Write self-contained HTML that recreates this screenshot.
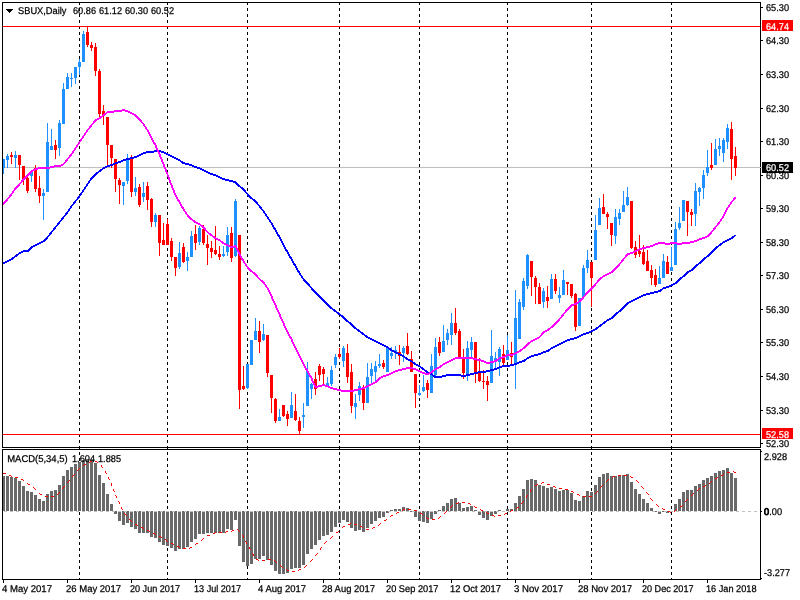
<!DOCTYPE html>
<html lang="en">
<head>
<meta charset="utf-8">
<title>SBUX, Daily</title>
<style>
html,body{margin:0;padding:0;background:#ffffff;}
body{width:800px;height:600px;overflow:hidden;}
svg{display:block;}
</style>
</head>
<body>
<svg width="800" height="600" viewBox="0 0 800 600" shape-rendering="crispEdges" text-rendering="geometricPrecision">
<rect x="0" y="0" width="800" height="600" fill="#ffffff"/>
<g fill="#000000">
<path d="M79 3h1v2h-1zM79 8h1v3h-1zM79 14h1v3h-1zM79 20h1v3h-1zM79 26h1v3h-1zM79 32h1v3h-1zM79 38h1v3h-1zM79 44h1v3h-1zM79 50h1v3h-1zM79 56h1v3h-1zM79 62h1v3h-1zM79 68h1v3h-1zM79 74h1v3h-1zM79 80h1v3h-1zM79 86h1v3h-1zM79 92h1v3h-1zM79 98h1v3h-1zM79 104h1v3h-1zM79 110h1v3h-1zM79 116h1v3h-1zM79 122h1v3h-1zM79 128h1v3h-1zM79 134h1v3h-1zM79 140h1v3h-1zM79 146h1v3h-1zM79 152h1v3h-1zM79 158h1v3h-1zM79 164h1v3h-1zM79 170h1v3h-1zM79 176h1v3h-1zM79 182h1v3h-1zM79 188h1v3h-1zM79 194h1v3h-1zM79 200h1v3h-1zM79 206h1v3h-1zM79 212h1v3h-1zM79 218h1v3h-1zM79 224h1v3h-1zM79 230h1v3h-1zM79 236h1v3h-1zM79 242h1v3h-1zM79 248h1v3h-1zM79 254h1v3h-1zM79 260h1v3h-1zM79 266h1v3h-1zM79 272h1v3h-1zM79 278h1v3h-1zM79 284h1v3h-1zM79 290h1v3h-1zM79 296h1v3h-1zM79 302h1v3h-1zM79 308h1v3h-1zM79 314h1v3h-1zM79 320h1v3h-1zM79 326h1v3h-1zM79 332h1v3h-1zM79 338h1v3h-1zM79 344h1v3h-1zM79 350h1v3h-1zM79 356h1v3h-1zM79 362h1v3h-1zM79 368h1v3h-1zM79 374h1v3h-1zM79 380h1v3h-1zM79 386h1v3h-1zM79 392h1v3h-1zM79 398h1v3h-1zM79 404h1v3h-1zM79 410h1v3h-1zM79 416h1v3h-1zM79 422h1v3h-1zM79 428h1v3h-1zM79 434h1v3h-1zM79 440h1v3h-1zM79 446h1v3h-1zM79 452h1v3h-1zM79 458h1v3h-1zM79 464h1v3h-1zM79 470h1v3h-1zM79 476h1v3h-1zM79 482h1v3h-1zM79 488h1v3h-1zM79 494h1v3h-1zM79 500h1v3h-1zM79 506h1v3h-1zM79 512h1v3h-1zM79 518h1v3h-1zM79 524h1v3h-1zM79 530h1v3h-1zM79 536h1v3h-1zM79 542h1v3h-1zM79 548h1v3h-1zM79 554h1v3h-1zM79 560h1v3h-1zM79 566h1v3h-1zM79 572h1v3h-1zM79 578h1v1h-1z"/>
<path d="M167 3h1v2h-1zM167 8h1v3h-1zM167 14h1v3h-1zM167 20h1v3h-1zM167 26h1v3h-1zM167 32h1v3h-1zM167 38h1v3h-1zM167 44h1v3h-1zM167 50h1v3h-1zM167 56h1v3h-1zM167 62h1v3h-1zM167 68h1v3h-1zM167 74h1v3h-1zM167 80h1v3h-1zM167 86h1v3h-1zM167 92h1v3h-1zM167 98h1v3h-1zM167 104h1v3h-1zM167 110h1v3h-1zM167 116h1v3h-1zM167 122h1v3h-1zM167 128h1v3h-1zM167 134h1v3h-1zM167 140h1v3h-1zM167 146h1v3h-1zM167 152h1v3h-1zM167 158h1v3h-1zM167 164h1v3h-1zM167 170h1v3h-1zM167 176h1v3h-1zM167 182h1v3h-1zM167 188h1v3h-1zM167 194h1v3h-1zM167 200h1v3h-1zM167 206h1v3h-1zM167 212h1v3h-1zM167 218h1v3h-1zM167 224h1v3h-1zM167 230h1v3h-1zM167 236h1v3h-1zM167 242h1v3h-1zM167 248h1v3h-1zM167 254h1v3h-1zM167 260h1v3h-1zM167 266h1v3h-1zM167 272h1v3h-1zM167 278h1v3h-1zM167 284h1v3h-1zM167 290h1v3h-1zM167 296h1v3h-1zM167 302h1v3h-1zM167 308h1v3h-1zM167 314h1v3h-1zM167 320h1v3h-1zM167 326h1v3h-1zM167 332h1v3h-1zM167 338h1v3h-1zM167 344h1v3h-1zM167 350h1v3h-1zM167 356h1v3h-1zM167 362h1v3h-1zM167 368h1v3h-1zM167 374h1v3h-1zM167 380h1v3h-1zM167 386h1v3h-1zM167 392h1v3h-1zM167 398h1v3h-1zM167 404h1v3h-1zM167 410h1v3h-1zM167 416h1v3h-1zM167 422h1v3h-1zM167 428h1v3h-1zM167 434h1v3h-1zM167 440h1v3h-1zM167 446h1v3h-1zM167 452h1v3h-1zM167 458h1v3h-1zM167 464h1v3h-1zM167 470h1v3h-1zM167 476h1v3h-1zM167 482h1v3h-1zM167 488h1v3h-1zM167 494h1v3h-1zM167 500h1v3h-1zM167 506h1v3h-1zM167 512h1v3h-1zM167 518h1v3h-1zM167 524h1v3h-1zM167 530h1v3h-1zM167 536h1v3h-1zM167 542h1v3h-1zM167 548h1v3h-1zM167 554h1v3h-1zM167 560h1v3h-1zM167 566h1v3h-1zM167 572h1v3h-1zM167 578h1v1h-1z"/>
<path d="M247 3h1v2h-1zM247 8h1v3h-1zM247 14h1v3h-1zM247 20h1v3h-1zM247 26h1v3h-1zM247 32h1v3h-1zM247 38h1v3h-1zM247 44h1v3h-1zM247 50h1v3h-1zM247 56h1v3h-1zM247 62h1v3h-1zM247 68h1v3h-1zM247 74h1v3h-1zM247 80h1v3h-1zM247 86h1v3h-1zM247 92h1v3h-1zM247 98h1v3h-1zM247 104h1v3h-1zM247 110h1v3h-1zM247 116h1v3h-1zM247 122h1v3h-1zM247 128h1v3h-1zM247 134h1v3h-1zM247 140h1v3h-1zM247 146h1v3h-1zM247 152h1v3h-1zM247 158h1v3h-1zM247 164h1v3h-1zM247 170h1v3h-1zM247 176h1v3h-1zM247 182h1v3h-1zM247 188h1v3h-1zM247 194h1v3h-1zM247 200h1v3h-1zM247 206h1v3h-1zM247 212h1v3h-1zM247 218h1v3h-1zM247 224h1v3h-1zM247 230h1v3h-1zM247 236h1v3h-1zM247 242h1v3h-1zM247 248h1v3h-1zM247 254h1v3h-1zM247 260h1v3h-1zM247 266h1v3h-1zM247 272h1v3h-1zM247 278h1v3h-1zM247 284h1v3h-1zM247 290h1v3h-1zM247 296h1v3h-1zM247 302h1v3h-1zM247 308h1v3h-1zM247 314h1v3h-1zM247 320h1v3h-1zM247 326h1v3h-1zM247 332h1v3h-1zM247 338h1v3h-1zM247 344h1v3h-1zM247 350h1v3h-1zM247 356h1v3h-1zM247 362h1v3h-1zM247 368h1v3h-1zM247 374h1v3h-1zM247 380h1v3h-1zM247 386h1v3h-1zM247 392h1v3h-1zM247 398h1v3h-1zM247 404h1v3h-1zM247 410h1v3h-1zM247 416h1v3h-1zM247 422h1v3h-1zM247 428h1v3h-1zM247 434h1v3h-1zM247 440h1v3h-1zM247 446h1v3h-1zM247 452h1v3h-1zM247 458h1v3h-1zM247 464h1v3h-1zM247 470h1v3h-1zM247 476h1v3h-1zM247 482h1v3h-1zM247 488h1v3h-1zM247 494h1v3h-1zM247 500h1v3h-1zM247 506h1v3h-1zM247 512h1v3h-1zM247 518h1v3h-1zM247 524h1v3h-1zM247 530h1v3h-1zM247 536h1v3h-1zM247 542h1v3h-1zM247 548h1v3h-1zM247 554h1v3h-1zM247 560h1v3h-1zM247 566h1v3h-1zM247 572h1v3h-1zM247 578h1v1h-1z"/>
<path d="M339 3h1v2h-1zM339 8h1v3h-1zM339 14h1v3h-1zM339 20h1v3h-1zM339 26h1v3h-1zM339 32h1v3h-1zM339 38h1v3h-1zM339 44h1v3h-1zM339 50h1v3h-1zM339 56h1v3h-1zM339 62h1v3h-1zM339 68h1v3h-1zM339 74h1v3h-1zM339 80h1v3h-1zM339 86h1v3h-1zM339 92h1v3h-1zM339 98h1v3h-1zM339 104h1v3h-1zM339 110h1v3h-1zM339 116h1v3h-1zM339 122h1v3h-1zM339 128h1v3h-1zM339 134h1v3h-1zM339 140h1v3h-1zM339 146h1v3h-1zM339 152h1v3h-1zM339 158h1v3h-1zM339 164h1v3h-1zM339 170h1v3h-1zM339 176h1v3h-1zM339 182h1v3h-1zM339 188h1v3h-1zM339 194h1v3h-1zM339 200h1v3h-1zM339 206h1v3h-1zM339 212h1v3h-1zM339 218h1v3h-1zM339 224h1v3h-1zM339 230h1v3h-1zM339 236h1v3h-1zM339 242h1v3h-1zM339 248h1v3h-1zM339 254h1v3h-1zM339 260h1v3h-1zM339 266h1v3h-1zM339 272h1v3h-1zM339 278h1v3h-1zM339 284h1v3h-1zM339 290h1v3h-1zM339 296h1v3h-1zM339 302h1v3h-1zM339 308h1v3h-1zM339 314h1v3h-1zM339 320h1v3h-1zM339 326h1v3h-1zM339 332h1v3h-1zM339 338h1v3h-1zM339 344h1v3h-1zM339 350h1v3h-1zM339 356h1v3h-1zM339 362h1v3h-1zM339 368h1v3h-1zM339 374h1v3h-1zM339 380h1v3h-1zM339 386h1v3h-1zM339 392h1v3h-1zM339 398h1v3h-1zM339 404h1v3h-1zM339 410h1v3h-1zM339 416h1v3h-1zM339 422h1v3h-1zM339 428h1v3h-1zM339 434h1v3h-1zM339 440h1v3h-1zM339 446h1v3h-1zM339 452h1v3h-1zM339 458h1v3h-1zM339 464h1v3h-1zM339 470h1v3h-1zM339 476h1v3h-1zM339 482h1v3h-1zM339 488h1v3h-1zM339 494h1v3h-1zM339 500h1v3h-1zM339 506h1v3h-1zM339 512h1v3h-1zM339 518h1v3h-1zM339 524h1v3h-1zM339 530h1v3h-1zM339 536h1v3h-1zM339 542h1v3h-1zM339 548h1v3h-1zM339 554h1v3h-1zM339 560h1v3h-1zM339 566h1v3h-1zM339 572h1v3h-1zM339 578h1v1h-1z"/>
<path d="M419 3h1v2h-1zM419 8h1v3h-1zM419 14h1v3h-1zM419 20h1v3h-1zM419 26h1v3h-1zM419 32h1v3h-1zM419 38h1v3h-1zM419 44h1v3h-1zM419 50h1v3h-1zM419 56h1v3h-1zM419 62h1v3h-1zM419 68h1v3h-1zM419 74h1v3h-1zM419 80h1v3h-1zM419 86h1v3h-1zM419 92h1v3h-1zM419 98h1v3h-1zM419 104h1v3h-1zM419 110h1v3h-1zM419 116h1v3h-1zM419 122h1v3h-1zM419 128h1v3h-1zM419 134h1v3h-1zM419 140h1v3h-1zM419 146h1v3h-1zM419 152h1v3h-1zM419 158h1v3h-1zM419 164h1v3h-1zM419 170h1v3h-1zM419 176h1v3h-1zM419 182h1v3h-1zM419 188h1v3h-1zM419 194h1v3h-1zM419 200h1v3h-1zM419 206h1v3h-1zM419 212h1v3h-1zM419 218h1v3h-1zM419 224h1v3h-1zM419 230h1v3h-1zM419 236h1v3h-1zM419 242h1v3h-1zM419 248h1v3h-1zM419 254h1v3h-1zM419 260h1v3h-1zM419 266h1v3h-1zM419 272h1v3h-1zM419 278h1v3h-1zM419 284h1v3h-1zM419 290h1v3h-1zM419 296h1v3h-1zM419 302h1v3h-1zM419 308h1v3h-1zM419 314h1v3h-1zM419 320h1v3h-1zM419 326h1v3h-1zM419 332h1v3h-1zM419 338h1v3h-1zM419 344h1v3h-1zM419 350h1v3h-1zM419 356h1v3h-1zM419 362h1v3h-1zM419 368h1v3h-1zM419 374h1v3h-1zM419 380h1v3h-1zM419 386h1v3h-1zM419 392h1v3h-1zM419 398h1v3h-1zM419 404h1v3h-1zM419 410h1v3h-1zM419 416h1v3h-1zM419 422h1v3h-1zM419 428h1v3h-1zM419 434h1v3h-1zM419 440h1v3h-1zM419 446h1v3h-1zM419 452h1v3h-1zM419 458h1v3h-1zM419 464h1v3h-1zM419 470h1v3h-1zM419 476h1v3h-1zM419 482h1v3h-1zM419 488h1v3h-1zM419 494h1v3h-1zM419 500h1v3h-1zM419 506h1v3h-1zM419 512h1v3h-1zM419 518h1v3h-1zM419 524h1v3h-1zM419 530h1v3h-1zM419 536h1v3h-1zM419 542h1v3h-1zM419 548h1v3h-1zM419 554h1v3h-1zM419 560h1v3h-1zM419 566h1v3h-1zM419 572h1v3h-1zM419 578h1v1h-1z"/>
<path d="M507 3h1v2h-1zM507 8h1v3h-1zM507 14h1v3h-1zM507 20h1v3h-1zM507 26h1v3h-1zM507 32h1v3h-1zM507 38h1v3h-1zM507 44h1v3h-1zM507 50h1v3h-1zM507 56h1v3h-1zM507 62h1v3h-1zM507 68h1v3h-1zM507 74h1v3h-1zM507 80h1v3h-1zM507 86h1v3h-1zM507 92h1v3h-1zM507 98h1v3h-1zM507 104h1v3h-1zM507 110h1v3h-1zM507 116h1v3h-1zM507 122h1v3h-1zM507 128h1v3h-1zM507 134h1v3h-1zM507 140h1v3h-1zM507 146h1v3h-1zM507 152h1v3h-1zM507 158h1v3h-1zM507 164h1v3h-1zM507 170h1v3h-1zM507 176h1v3h-1zM507 182h1v3h-1zM507 188h1v3h-1zM507 194h1v3h-1zM507 200h1v3h-1zM507 206h1v3h-1zM507 212h1v3h-1zM507 218h1v3h-1zM507 224h1v3h-1zM507 230h1v3h-1zM507 236h1v3h-1zM507 242h1v3h-1zM507 248h1v3h-1zM507 254h1v3h-1zM507 260h1v3h-1zM507 266h1v3h-1zM507 272h1v3h-1zM507 278h1v3h-1zM507 284h1v3h-1zM507 290h1v3h-1zM507 296h1v3h-1zM507 302h1v3h-1zM507 308h1v3h-1zM507 314h1v3h-1zM507 320h1v3h-1zM507 326h1v3h-1zM507 332h1v3h-1zM507 338h1v3h-1zM507 344h1v3h-1zM507 350h1v3h-1zM507 356h1v3h-1zM507 362h1v3h-1zM507 368h1v3h-1zM507 374h1v3h-1zM507 380h1v3h-1zM507 386h1v3h-1zM507 392h1v3h-1zM507 398h1v3h-1zM507 404h1v3h-1zM507 410h1v3h-1zM507 416h1v3h-1zM507 422h1v3h-1zM507 428h1v3h-1zM507 434h1v3h-1zM507 440h1v3h-1zM507 446h1v3h-1zM507 452h1v3h-1zM507 458h1v3h-1zM507 464h1v3h-1zM507 470h1v3h-1zM507 476h1v3h-1zM507 482h1v3h-1zM507 488h1v3h-1zM507 494h1v3h-1zM507 500h1v3h-1zM507 506h1v3h-1zM507 512h1v3h-1zM507 518h1v3h-1zM507 524h1v3h-1zM507 530h1v3h-1zM507 536h1v3h-1zM507 542h1v3h-1zM507 548h1v3h-1zM507 554h1v3h-1zM507 560h1v3h-1zM507 566h1v3h-1zM507 572h1v3h-1zM507 578h1v1h-1z"/>
<path d="M591 3h1v2h-1zM591 8h1v3h-1zM591 14h1v3h-1zM591 20h1v3h-1zM591 26h1v3h-1zM591 32h1v3h-1zM591 38h1v3h-1zM591 44h1v3h-1zM591 50h1v3h-1zM591 56h1v3h-1zM591 62h1v3h-1zM591 68h1v3h-1zM591 74h1v3h-1zM591 80h1v3h-1zM591 86h1v3h-1zM591 92h1v3h-1zM591 98h1v3h-1zM591 104h1v3h-1zM591 110h1v3h-1zM591 116h1v3h-1zM591 122h1v3h-1zM591 128h1v3h-1zM591 134h1v3h-1zM591 140h1v3h-1zM591 146h1v3h-1zM591 152h1v3h-1zM591 158h1v3h-1zM591 164h1v3h-1zM591 170h1v3h-1zM591 176h1v3h-1zM591 182h1v3h-1zM591 188h1v3h-1zM591 194h1v3h-1zM591 200h1v3h-1zM591 206h1v3h-1zM591 212h1v3h-1zM591 218h1v3h-1zM591 224h1v3h-1zM591 230h1v3h-1zM591 236h1v3h-1zM591 242h1v3h-1zM591 248h1v3h-1zM591 254h1v3h-1zM591 260h1v3h-1zM591 266h1v3h-1zM591 272h1v3h-1zM591 278h1v3h-1zM591 284h1v3h-1zM591 290h1v3h-1zM591 296h1v3h-1zM591 302h1v3h-1zM591 308h1v3h-1zM591 314h1v3h-1zM591 320h1v3h-1zM591 326h1v3h-1zM591 332h1v3h-1zM591 338h1v3h-1zM591 344h1v3h-1zM591 350h1v3h-1zM591 356h1v3h-1zM591 362h1v3h-1zM591 368h1v3h-1zM591 374h1v3h-1zM591 380h1v3h-1zM591 386h1v3h-1zM591 392h1v3h-1zM591 398h1v3h-1zM591 404h1v3h-1zM591 410h1v3h-1zM591 416h1v3h-1zM591 422h1v3h-1zM591 428h1v3h-1zM591 434h1v3h-1zM591 440h1v3h-1zM591 446h1v3h-1zM591 452h1v3h-1zM591 458h1v3h-1zM591 464h1v3h-1zM591 470h1v3h-1zM591 476h1v3h-1zM591 482h1v3h-1zM591 488h1v3h-1zM591 494h1v3h-1zM591 500h1v3h-1zM591 506h1v3h-1zM591 512h1v3h-1zM591 518h1v3h-1zM591 524h1v3h-1zM591 530h1v3h-1zM591 536h1v3h-1zM591 542h1v3h-1zM591 548h1v3h-1zM591 554h1v3h-1zM591 560h1v3h-1zM591 566h1v3h-1zM591 572h1v3h-1zM591 578h1v1h-1z"/>
<path d="M671 3h1v2h-1zM671 8h1v3h-1zM671 14h1v3h-1zM671 20h1v3h-1zM671 26h1v3h-1zM671 32h1v3h-1zM671 38h1v3h-1zM671 44h1v3h-1zM671 50h1v3h-1zM671 56h1v3h-1zM671 62h1v3h-1zM671 68h1v3h-1zM671 74h1v3h-1zM671 80h1v3h-1zM671 86h1v3h-1zM671 92h1v3h-1zM671 98h1v3h-1zM671 104h1v3h-1zM671 110h1v3h-1zM671 116h1v3h-1zM671 122h1v3h-1zM671 128h1v3h-1zM671 134h1v3h-1zM671 140h1v3h-1zM671 146h1v3h-1zM671 152h1v3h-1zM671 158h1v3h-1zM671 164h1v3h-1zM671 170h1v3h-1zM671 176h1v3h-1zM671 182h1v3h-1zM671 188h1v3h-1zM671 194h1v3h-1zM671 200h1v3h-1zM671 206h1v3h-1zM671 212h1v3h-1zM671 218h1v3h-1zM671 224h1v3h-1zM671 230h1v3h-1zM671 236h1v3h-1zM671 242h1v3h-1zM671 248h1v3h-1zM671 254h1v3h-1zM671 260h1v3h-1zM671 266h1v3h-1zM671 272h1v3h-1zM671 278h1v3h-1zM671 284h1v3h-1zM671 290h1v3h-1zM671 296h1v3h-1zM671 302h1v3h-1zM671 308h1v3h-1zM671 314h1v3h-1zM671 320h1v3h-1zM671 326h1v3h-1zM671 332h1v3h-1zM671 338h1v3h-1zM671 344h1v3h-1zM671 350h1v3h-1zM671 356h1v3h-1zM671 362h1v3h-1zM671 368h1v3h-1zM671 374h1v3h-1zM671 380h1v3h-1zM671 386h1v3h-1zM671 392h1v3h-1zM671 398h1v3h-1zM671 404h1v3h-1zM671 410h1v3h-1zM671 416h1v3h-1zM671 422h1v3h-1zM671 428h1v3h-1zM671 434h1v3h-1zM671 440h1v3h-1zM671 446h1v3h-1zM671 452h1v3h-1zM671 458h1v3h-1zM671 464h1v3h-1zM671 470h1v3h-1zM671 476h1v3h-1zM671 482h1v3h-1zM671 488h1v3h-1zM671 494h1v3h-1zM671 500h1v3h-1zM671 506h1v3h-1zM671 512h1v3h-1zM671 518h1v3h-1zM671 524h1v3h-1zM671 530h1v3h-1zM671 536h1v3h-1zM671 542h1v3h-1zM671 548h1v3h-1zM671 554h1v3h-1zM671 560h1v3h-1zM671 566h1v3h-1zM671 572h1v3h-1zM671 578h1v1h-1z"/>
</g>
<rect x="3" y="167" width="759" height="1" fill="#c0c0c0"/>
<path fill="#1e90ff" d="M3 159h1v15h-1zM2 159h3v9h-3zM7 154h1v14h-1zM6 156h3v4h-3zM15 151h1v17h-1zM14 155h3v3h-3zM31 171h1v11h-1zM30 172h3v4h-3zM43 189h1v31h-1zM42 193h3v3h-3zM47 123h1v69h-1zM46 142h3v50h-3zM51 129h1v21h-1zM50 146h3v4h-3zM59 120h1v36h-1zM58 123h3v25h-3zM63 83h1v41h-1zM62 89h3v35h-3zM67 73h1v16h-1zM66 77h3v12h-3zM71 73h1v14h-1zM70 78h3v1h-3zM75 67h1v17h-1zM74 67h3v11h-3zM79 59h1v16h-1zM78 62h3v5h-3zM83 31h1v31h-1zM82 34h3v28h-3zM123 182h1v23h-1zM122 182h3v4h-3zM127 154h1v30h-1zM126 159h3v22h-3zM135 177h1v19h-1zM134 188h3v4h-3zM143 182h1v20h-1zM142 193h3v4h-3zM155 213h1v14h-1zM154 215h3v7h-3zM179 242h1v27h-1zM178 253h3v14h-3zM187 252h1v19h-1zM186 257h3v4h-3zM191 231h1v26h-1zM190 236h3v21h-3zM199 226h1v19h-1zM198 228h3v14h-3zM223 246h1v11h-1zM222 254h3v2h-3zM227 227h1v29h-1zM226 235h3v17h-3zM235 199h1v58h-1zM234 201h3v55h-3zM247 364h1v25h-1zM246 364h3v24h-3zM251 340h1v25h-1zM250 340h3v25h-3zM255 318h1v22h-1zM254 331h3v9h-3zM263 324h1v17h-1zM262 334h3v6h-3zM279 409h1v12h-1zM278 417h3v4h-3zM291 392h1v26h-1zM290 405h3v13h-3zM303 403h1v25h-1zM302 415h3v2h-3zM307 362h1v44h-1zM306 371h3v35h-3zM311 383h1v16h-1zM310 384h3v5h-3zM327 377h1v9h-1zM326 383h3v3h-3zM331 366h1v20h-1zM330 370h3v14h-3zM335 354h1v14h-1zM334 357h3v8h-3zM343 346h1v21h-1zM342 348h3v13h-3zM355 394h1v25h-1zM354 403h3v4h-3zM359 382h1v19h-1zM358 386h3v9h-3zM367 363h1v40h-1zM366 377h3v26h-3zM371 363h1v20h-1zM370 369h3v7h-3zM375 361h1v20h-1zM374 366h3v6h-3zM379 354h1v14h-1zM378 364h3v2h-3zM387 346h1v26h-1zM386 348h3v24h-3zM391 347h1v12h-1zM390 353h3v3h-3zM395 346h1v13h-1zM394 350h3v2h-3zM403 346h1v16h-1zM402 348h3v5h-3zM419 385h1v11h-1zM418 393h3v2h-3zM423 375h1v17h-1zM422 387h3v4h-3zM431 354h1v39h-1zM430 366h3v27h-3zM435 338h1v40h-1zM434 347h3v28h-3zM443 325h1v27h-1zM442 341h3v11h-3zM447 329h1v16h-1zM446 333h3v7h-3zM451 313h1v32h-1zM450 323h3v12h-3zM467 341h1v40h-1zM466 348h3v26h-3zM471 337h1v20h-1zM470 342h3v8h-3zM491 330h1v53h-1zM490 356h3v27h-3zM495 352h1v17h-1zM494 358h3v4h-3zM499 347h1v29h-1zM498 349h3v13h-3zM507 335h1v25h-1zM506 350h3v10h-3zM515 290h1v99h-1zM514 318h3v45h-3zM519 299h1v40h-1zM518 302h3v37h-3zM523 278h1v32h-1zM522 281h3v26h-3zM527 254h1v35h-1zM526 255h3v31h-3zM543 288h1v20h-1zM542 291h3v11h-3zM551 274h1v25h-1zM550 279h3v20h-3zM559 287h1v16h-1zM558 295h3v3h-3zM563 270h1v25h-1zM562 280h3v15h-3zM579 298h1v28h-1zM578 298h3v28h-3zM583 265h1v32h-1zM582 268h3v29h-3zM587 250h1v23h-1zM586 260h3v8h-3zM595 215h1v45h-1zM594 230h3v30h-3zM599 198h1v27h-1zM598 208h3v17h-3zM615 209h1v35h-1zM614 217h3v19h-3zM619 209h1v16h-1zM618 213h3v6h-3zM623 191h1v21h-1zM622 205h3v7h-3zM627 187h1v19h-1zM626 197h3v8h-3zM659 266h1v18h-1zM658 278h3v6h-3zM663 254h1v24h-1zM662 261h3v17h-3zM671 247h1v24h-1zM670 267h3v4h-3zM675 222h1v43h-1zM674 229h3v36h-3zM679 207h1v23h-1zM678 223h3v5h-3zM683 200h1v21h-1zM682 200h3v21h-3zM695 183h1v43h-1zM694 191h3v23h-3zM699 187h1v19h-1zM698 188h3v4h-3zM703 170h1v29h-1zM702 175h3v13h-3zM707 150h1v26h-1zM706 167h3v6h-3zM715 139h1v26h-1zM714 149h3v16h-3zM719 138h1v18h-1zM718 146h3v3h-3zM723 138h1v24h-1zM722 140h3v13h-3zM727 124h1v25h-1zM726 128h3v14h-3z"/>
<path fill="#ff0000" d="M11 152h1v12h-1zM10 155h3v2h-3zM19 155h1v25h-1zM18 155h3v10h-3zM23 166h1v19h-1zM22 166h3v14h-3zM27 177h1v16h-1zM26 178h3v13h-3zM35 165h1v27h-1zM34 168h3v21h-3zM39 176h1v27h-1zM38 188h3v8h-3zM55 140h1v19h-1zM54 145h3v5h-3zM87 27h1v20h-1zM86 32h3v13h-3zM91 42h1v9h-1zM90 45h3v3h-3zM95 43h1v33h-1zM94 47h3v24h-3zM99 69h1v48h-1zM98 71h3v43h-3zM103 105h1v20h-1zM102 111h3v4h-3zM107 117h1v48h-1zM106 117h3v28h-3zM111 145h1v23h-1zM110 145h3v13h-3zM115 159h1v33h-1zM114 159h3v20h-3zM119 178h1v26h-1zM118 180h3v5h-3zM131 155h1v42h-1zM130 158h3v34h-3zM139 184h1v23h-1zM138 187h3v18h-3zM147 182h1v28h-1zM146 186h3v14h-3zM151 198h1v29h-1zM150 199h3v23h-3zM159 215h1v41h-1zM158 215h3v28h-3zM163 223h1v22h-1zM162 240h3v5h-3zM167 219h1v26h-1zM166 224h3v21h-3zM171 238h1v23h-1zM170 241h3v16h-3zM175 257h1v19h-1zM174 257h3v11h-3zM183 243h1v20h-1zM182 247h3v15h-3zM195 225h1v25h-1zM194 234h3v9h-3zM203 225h1v20h-1zM202 229h3v14h-3zM207 235h1v30h-1zM206 244h3v4h-3zM211 241h1v17h-1zM210 248h3v4h-3zM215 226h1v29h-1zM214 250h3v4h-3zM219 246h1v14h-1zM218 254h3v3h-3zM231 227h1v35h-1zM230 233h3v25h-3zM239 235h1v174h-1zM238 235h3v155h-3zM243 366h1v24h-1zM242 386h3v3h-3zM259 321h1v32h-1zM258 331h3v11h-3zM267 335h1v42h-1zM266 335h3v38h-3zM271 375h1v38h-1zM270 375h3v23h-3zM275 398h1v25h-1zM274 399h3v22h-3zM283 405h1v12h-1zM282 405h3v11h-3zM287 411h1v15h-1zM286 414h3v5h-3zM295 394h1v27h-1zM294 411h3v9h-3zM299 417h1v17h-1zM298 421h3v10h-3zM315 372h1v23h-1zM314 379h3v10h-3zM319 364h1v17h-1zM318 366h3v9h-3zM323 367h1v18h-1zM322 369h3v5h-3zM339 348h1v11h-1zM338 354h3v3h-3zM347 344h1v39h-1zM346 353h3v24h-3zM351 364h1v49h-1zM350 372h3v34h-3zM363 385h1v25h-1zM362 388h3v15h-3zM383 360h1v9h-1zM382 363h3v4h-3zM399 345h1v20h-1zM398 352h3v4h-3zM407 333h1v22h-1zM406 346h3v8h-3zM411 351h1v21h-1zM410 359h3v13h-3zM415 374h1v34h-1zM414 374h3v19h-3zM427 380h1v18h-1zM426 383h3v7h-3zM439 337h1v19h-1zM438 342h3v11h-3zM455 308h1v27h-1zM454 323h3v10h-3zM459 329h1v28h-1zM458 331h3v26h-3zM463 349h1v30h-1zM462 358h3v15h-3zM475 342h1v41h-1zM474 342h3v30h-3zM479 358h1v24h-1zM478 373h3v8h-3zM483 370h1v19h-1zM482 381h3v1h-3zM487 376h1v25h-1zM486 381h3v4h-3zM503 345h1v20h-1zM502 354h3v9h-3zM511 342h1v22h-1zM510 353h3v4h-3zM531 261h1v35h-1zM530 261h3v16h-3zM535 276h1v28h-1zM534 278h3v9h-3zM539 283h1v21h-1zM538 287h3v17h-3zM547 286h1v22h-1zM546 297h3v4h-3zM555 274h1v20h-1zM554 279h3v12h-3zM567 282h1v13h-1zM566 282h3v2h-3zM571 284h1v14h-1zM570 284h3v12h-3zM575 293h1v38h-1zM574 294h3v33h-3zM591 262h1v45h-1zM590 262h3v16h-3zM603 194h1v20h-1zM602 207h3v7h-3zM607 212h1v17h-1zM606 214h3v3h-3zM611 223h1v23h-1zM610 223h3v12h-3zM631 201h1v48h-1zM630 201h3v47h-3zM635 241h1v17h-1zM634 247h3v8h-3zM639 235h1v22h-1zM638 251h3v3h-3zM643 245h1v20h-1zM642 252h3v12h-3zM647 250h1v21h-1zM646 261h3v10h-3zM651 265h1v20h-1zM650 270h3v8h-3zM655 269h1v18h-1zM654 275h3v10h-3zM667 256h1v18h-1zM666 262h3v12h-3zM687 201h1v35h-1zM686 201h3v11h-3zM691 209h1v17h-1zM690 212h3v3h-3zM711 143h1v27h-1zM710 165h3v3h-3zM731 122h1v58h-1zM730 129h3v30h-3zM735 147h1v29h-1zM734 156h3v12h-3z"/>
<path fill="#0000ff" d="M154 150h7v1h-7zM146 151h18v1h-18zM143 152h11v1h-11zM161 152h5v1h-5zM141 153h5v1h-5zM164 153h4v1h-4zM139 154h4v1h-4zM166 154h4v1h-4zM137 155h4v1h-4zM168 155h4v1h-4zM134 156h5v1h-5zM170 156h4v1h-4zM130 157h7v1h-7zM172 157h4v1h-4zM126 158h8v1h-8zM174 158h4v1h-4zM123 159h7v1h-7zM176 159h4v1h-4zM121 160h5v1h-5zM178 160h3v1h-3zM118 161h5v1h-5zM180 161h3v1h-3zM115 162h6v1h-6zM181 162h4v1h-4zM113 163h5v1h-5zM182 163h7v1h-7zM110 164h5v1h-5zM185 164h7v1h-7zM107 165h6v1h-6zM189 165h5v1h-5zM105 166h5v1h-5zM192 166h5v1h-5zM103 167h4v1h-4zM194 167h6v1h-6zM102 168h3v1h-3zM197 168h5v1h-5zM100 169h3v1h-3zM200 169h4v1h-4zM99 170h3v1h-3zM202 170h4v1h-4zM98 171h3v1h-3zM204 171h4v1h-4zM96 172h3v1h-3zM206 172h4v1h-4zM95 173h3v1h-3zM208 173h5v1h-5zM94 174h3v1h-3zM210 174h6v1h-6zM93 175h3v1h-3zM213 175h5v1h-5zM92 176h3v1h-3zM216 176h4v1h-4zM91 177h3v1h-3zM218 177h4v1h-4zM90 178h3v1h-3zM220 178h5v1h-5zM90 179h2v1h-2zM222 179h7v1h-7zM89 180h2v1h-2zM225 180h8v1h-8zM88 181h2v1h-2zM229 181h7v1h-7zM88 182h2v1h-2zM233 182h4v1h-4zM87 183h2v1h-2zM235 183h3v1h-3zM86 184h2v1h-2zM236 184h3v1h-3zM86 185h2v1h-2zM237 185h3v1h-3zM85 186h2v1h-2zM238 186h3v1h-3zM84 187h2v1h-2zM240 187h3v1h-3zM84 188h2v1h-2zM241 188h3v1h-3zM83 189h2v1h-2zM242 189h3v1h-3zM82 190h2v1h-2zM243 190h3v1h-3zM82 191h2v1h-2zM244 191h2v1h-2zM81 192h2v1h-2zM245 192h2v1h-2zM80 193h2v1h-2zM246 193h2v1h-2zM80 194h2v1h-2zM247 194h2v1h-2zM79 195h2v1h-2zM247 195h3v1h-3zM78 196h2v1h-2zM248 196h3v1h-3zM77 197h3v1h-3zM249 197h3v1h-3zM77 198h2v1h-2zM250 198h3v1h-3zM76 199h2v1h-2zM252 199h3v1h-3zM75 200h2v1h-2zM253 200h3v1h-3zM74 201h2v1h-2zM254 201h3v1h-3zM73 202h3v1h-3zM255 202h3v1h-3zM73 203h2v1h-2zM256 203h2v1h-2zM72 204h2v1h-2zM257 204h2v1h-2zM71 205h2v1h-2zM258 205h2v1h-2zM70 206h2v1h-2zM259 206h2v1h-2zM70 207h2v1h-2zM259 207h3v1h-3zM69 208h2v1h-2zM260 208h2v1h-2zM68 209h2v1h-2zM261 209h2v1h-2zM68 210h2v1h-2zM262 210h2v1h-2zM67 211h2v1h-2zM263 211h2v1h-2zM66 212h2v1h-2zM263 212h2v1h-2zM65 213h3v1h-3zM264 213h2v1h-2zM65 214h2v1h-2zM265 214h2v1h-2zM64 215h2v1h-2zM265 215h2v1h-2zM63 216h2v1h-2zM266 216h2v1h-2zM62 217h2v1h-2zM267 217h2v1h-2zM61 218h3v1h-3zM267 218h2v1h-2zM61 219h2v1h-2zM268 219h2v1h-2zM60 220h2v1h-2zM269 220h2v1h-2zM59 221h2v1h-2zM269 221h2v1h-2zM58 222h2v1h-2zM270 222h2v1h-2zM57 223h3v1h-3zM271 223h2v1h-2zM57 224h2v1h-2zM271 224h2v1h-2zM56 225h2v1h-2zM272 225h2v1h-2zM55 226h2v1h-2zM272 226h2v1h-2zM54 227h2v1h-2zM273 227h2v1h-2zM53 228h3v1h-3zM273 228h3v1h-3zM53 229h2v1h-2zM274 229h2v1h-2zM52 230h2v1h-2zM275 230h2v1h-2zM51 231h2v1h-2zM275 231h2v1h-2zM50 232h2v1h-2zM276 232h2v1h-2zM49 233h3v1h-3zM276 233h2v1h-2zM49 234h2v1h-2zM277 234h2v1h-2zM48 235h2v1h-2zM277 235h3v1h-3zM734 235h2v1h-2zM47 236h2v1h-2zM278 236h2v1h-2zM732 236h3v1h-3zM46 237h2v1h-2zM279 237h2v1h-2zM731 237h3v1h-3zM45 238h3v1h-3zM279 238h2v1h-2zM729 238h4v1h-4zM44 239h3v1h-3zM280 239h2v1h-2zM727 239h4v1h-4zM43 240h3v1h-3zM280 240h2v1h-2zM725 240h4v1h-4zM41 241h4v1h-4zM281 241h2v1h-2zM723 241h4v1h-4zM39 242h4v1h-4zM281 242h2v1h-2zM722 242h3v1h-3zM37 243h4v1h-4zM282 243h2v1h-2zM720 243h3v1h-3zM35 244h4v1h-4zM282 244h2v1h-2zM719 244h3v1h-3zM33 245h4v1h-4zM283 245h2v1h-2zM718 245h3v1h-3zM31 246h4v1h-4zM283 246h2v1h-2zM716 246h3v1h-3zM30 247h3v1h-3zM284 247h2v1h-2zM715 247h3v1h-3zM29 248h3v1h-3zM284 248h2v1h-2zM714 248h3v1h-3zM28 249h3v1h-3zM285 249h2v1h-2zM713 249h3v1h-3zM23 250h7v1h-7zM285 250h3v1h-3zM712 250h3v1h-3zM21 251h8v1h-8zM286 251h2v1h-2zM711 251h3v1h-3zM19 252h4v1h-4zM287 252h2v1h-2zM710 252h3v1h-3zM18 253h3v1h-3zM287 253h2v1h-2zM709 253h3v1h-3zM16 254h3v1h-3zM288 254h2v1h-2zM708 254h3v1h-3zM15 255h3v1h-3zM288 255h2v1h-2zM707 255h3v1h-3zM14 256h3v1h-3zM289 256h2v1h-2zM706 256h3v1h-3zM12 257h3v1h-3zM289 257h3v1h-3zM704 257h3v1h-3zM11 258h3v1h-3zM290 258h2v1h-2zM703 258h3v1h-3zM9 259h4v1h-4zM291 259h2v1h-2zM702 259h3v1h-3zM7 260h4v1h-4zM291 260h2v1h-2zM701 260h3v1h-3zM5 261h4v1h-4zM292 261h2v1h-2zM700 261h3v1h-3zM3 262h4v1h-4zM292 262h2v1h-2zM699 262h3v1h-3zM3 263h2v1h-2zM293 263h2v1h-2zM698 263h3v1h-3zM293 264h3v1h-3zM696 264h3v1h-3zM294 265h2v1h-2zM695 265h3v1h-3zM295 266h2v1h-2zM694 266h3v1h-3zM295 267h2v1h-2zM693 267h3v1h-3zM296 268h2v1h-2zM692 268h3v1h-3zM296 269h2v1h-2zM691 269h3v1h-3zM297 270h2v1h-2zM689 270h4v1h-4zM297 271h3v1h-3zM687 271h4v1h-4zM298 272h2v1h-2zM686 272h3v1h-3zM299 273h2v1h-2zM685 273h3v1h-3zM299 274h2v1h-2zM684 274h3v1h-3zM300 275h2v1h-2zM683 275h3v1h-3zM301 276h2v1h-2zM682 276h3v1h-3zM301 277h2v1h-2zM680 277h3v1h-3zM302 278h2v1h-2zM679 278h3v1h-3zM303 279h2v1h-2zM678 279h3v1h-3zM303 280h3v1h-3zM677 280h3v1h-3zM304 281h3v1h-3zM676 281h3v1h-3zM305 282h3v1h-3zM675 282h3v1h-3zM306 283h3v1h-3zM673 283h4v1h-4zM307 284h3v1h-3zM671 284h4v1h-4zM308 285h2v1h-2zM669 285h4v1h-4zM309 286h2v1h-2zM666 286h5v1h-5zM310 287h2v1h-2zM663 287h6v1h-6zM311 288h2v1h-2zM662 288h4v1h-4zM311 289h3v1h-3zM660 289h3v1h-3zM312 290h3v1h-3zM658 290h4v1h-4zM313 291h3v1h-3zM654 291h7v1h-7zM314 292h3v1h-3zM650 292h8v1h-8zM315 293h3v1h-3zM646 293h8v1h-8zM316 294h3v1h-3zM643 294h7v1h-7zM317 295h3v1h-3zM641 295h5v1h-5zM318 296h3v1h-3zM639 296h4v1h-4zM319 297h3v1h-3zM637 297h4v1h-4zM320 298h3v1h-3zM635 298h4v1h-4zM321 299h3v1h-3zM633 299h4v1h-4zM322 300h3v1h-3zM631 300h4v1h-4zM323 301h3v1h-3zM629 301h4v1h-4zM324 302h3v1h-3zM627 302h4v1h-4zM325 303h3v1h-3zM626 303h3v1h-3zM326 304h3v1h-3zM625 304h3v1h-3zM327 305h3v1h-3zM624 305h3v1h-3zM328 306h3v1h-3zM623 306h3v1h-3zM329 307h3v1h-3zM622 307h3v1h-3zM330 308h3v1h-3zM621 308h3v1h-3zM332 309h3v1h-3zM620 309h3v1h-3zM333 310h3v1h-3zM619 310h3v1h-3zM334 311h3v1h-3zM618 311h3v1h-3zM336 312h3v1h-3zM616 312h3v1h-3zM337 313h3v1h-3zM615 313h3v1h-3zM338 314h3v1h-3zM614 314h3v1h-3zM340 315h3v1h-3zM613 315h3v1h-3zM341 316h3v1h-3zM612 316h3v1h-3zM342 317h3v1h-3zM611 317h3v1h-3zM343 318h3v1h-3zM609 318h4v1h-4zM344 319h3v1h-3zM607 319h4v1h-4zM345 320h3v1h-3zM606 320h3v1h-3zM346 321h3v1h-3zM604 321h3v1h-3zM348 322h3v1h-3zM603 322h3v1h-3zM349 323h3v1h-3zM602 323h3v1h-3zM350 324h3v1h-3zM600 324h3v1h-3zM351 325h3v1h-3zM599 325h3v1h-3zM352 326h3v1h-3zM598 326h3v1h-3zM353 327h3v1h-3zM596 327h3v1h-3zM354 328h3v1h-3zM595 328h3v1h-3zM356 329h3v1h-3zM593 329h4v1h-4zM357 330h3v1h-3zM591 330h4v1h-4zM358 331h3v1h-3zM589 331h4v1h-4zM360 332h3v1h-3zM586 332h5v1h-5zM361 333h3v1h-3zM583 333h6v1h-6zM362 334h3v1h-3zM581 334h5v1h-5zM364 335h3v1h-3zM579 335h4v1h-4zM365 336h3v1h-3zM577 336h4v1h-4zM366 337h4v1h-4zM574 337h5v1h-5zM368 338h4v1h-4zM570 338h7v1h-7zM370 339h4v1h-4zM567 339h7v1h-7zM372 340h4v1h-4zM565 340h5v1h-5zM374 341h4v1h-4zM563 341h4v1h-4zM376 342h4v1h-4zM561 342h4v1h-4zM378 343h4v1h-4zM559 343h4v1h-4zM380 344h4v1h-4zM557 344h4v1h-4zM382 345h4v1h-4zM555 345h4v1h-4zM384 346h4v1h-4zM553 346h4v1h-4zM386 347h3v1h-3zM551 347h4v1h-4zM388 348h3v1h-3zM550 348h3v1h-3zM389 349h3v1h-3zM548 349h3v1h-3zM390 350h4v1h-4zM546 350h4v1h-4zM392 351h4v1h-4zM543 351h6v1h-6zM394 352h4v1h-4zM541 352h5v1h-5zM396 353h4v1h-4zM538 353h5v1h-5zM398 354h4v1h-4zM534 354h7v1h-7zM400 355h4v1h-4zM531 355h7v1h-7zM402 356h3v1h-3zM529 356h5v1h-5zM404 357h3v1h-3zM527 357h4v1h-4zM405 358h3v1h-3zM526 358h3v1h-3zM406 359h4v1h-4zM524 359h3v1h-3zM408 360h4v1h-4zM522 360h4v1h-4zM410 361h3v1h-3zM519 361h6v1h-6zM412 362h3v1h-3zM517 362h5v1h-5zM413 363h3v1h-3zM514 363h5v1h-5zM414 364h4v1h-4zM510 364h7v1h-7zM416 365h4v1h-4zM502 365h12v1h-12zM418 366h3v1h-3zM499 366h11v1h-11zM420 367h3v1h-3zM497 367h5v1h-5zM421 368h3v1h-3zM494 368h5v1h-5zM422 369h3v1h-3zM490 369h7v1h-7zM424 370h3v1h-3zM486 370h8v1h-8zM425 371h3v1h-3zM478 371h12v1h-12zM426 372h4v1h-4zM474 372h12v1h-12zM428 373h4v1h-4zM470 373h8v1h-8zM430 374h3v1h-3zM446 374h15v1h-15zM466 374h8v1h-8zM432 375h3v1h-3zM442 375h28v1h-28zM433 376h13v1h-13zM461 376h5v1h-5zM434 377h8v1h-8z"/>
<path fill="#ff00ff" d="M122 109h3v1h-3zM114 110h14v1h-14zM107 111h15v1h-15zM125 111h5v1h-5zM106 112h8v1h-8zM128 112h4v1h-4zM104 113h3v1h-3zM130 113h4v1h-4zM103 114h3v1h-3zM132 114h4v1h-4zM102 115h3v1h-3zM134 115h3v1h-3zM100 116h3v1h-3zM135 116h3v1h-3zM99 117h3v1h-3zM136 117h3v1h-3zM97 118h4v1h-4zM137 118h3v1h-3zM95 119h4v1h-4zM138 119h3v1h-3zM94 120h3v1h-3zM139 120h3v1h-3zM93 121h3v1h-3zM140 121h2v1h-2zM93 122h2v1h-2zM141 122h2v1h-2zM92 123h2v1h-2zM142 123h2v1h-2zM91 124h2v1h-2zM143 124h2v1h-2zM90 125h2v1h-2zM143 125h2v1h-2zM89 126h3v1h-3zM144 126h2v1h-2zM89 127h2v1h-2zM145 127h2v1h-2zM88 128h2v1h-2zM145 128h2v1h-2zM87 129h2v1h-2zM146 129h2v1h-2zM86 130h2v1h-2zM147 130h2v1h-2zM86 131h2v1h-2zM147 131h2v1h-2zM85 132h2v1h-2zM148 132h2v1h-2zM84 133h2v1h-2zM148 133h2v1h-2zM84 134h2v1h-2zM149 134h2v1h-2zM83 135h2v1h-2zM149 135h2v1h-2zM82 136h2v1h-2zM150 136h2v1h-2zM82 137h2v1h-2zM150 137h2v1h-2zM81 138h2v1h-2zM151 138h2v1h-2zM80 139h2v1h-2zM151 139h2v1h-2zM80 140h2v1h-2zM152 140h2v1h-2zM79 141h2v1h-2zM152 141h2v1h-2zM78 142h2v1h-2zM153 142h2v1h-2zM78 143h2v1h-2zM153 143h3v1h-3zM77 144h2v1h-2zM154 144h2v1h-2zM76 145h2v1h-2zM155 145h2v1h-2zM76 146h2v1h-2zM155 146h2v1h-2zM75 147h2v1h-2zM155 147h2v1h-2zM74 148h2v1h-2zM156 148h2v1h-2zM74 149h2v1h-2zM156 149h2v1h-2zM73 150h2v1h-2zM157 150h2v1h-2zM72 151h2v1h-2zM157 151h2v1h-2zM72 152h2v1h-2zM158 152h2v1h-2zM71 153h2v1h-2zM158 153h2v1h-2zM70 154h2v1h-2zM159 154h2v1h-2zM69 155h3v1h-3zM159 155h2v1h-2zM69 156h2v1h-2zM159 156h2v1h-2zM68 157h2v1h-2zM160 157h2v1h-2zM67 158h2v1h-2zM160 158h2v1h-2zM66 159h2v1h-2zM161 159h2v1h-2zM65 160h3v1h-3zM161 160h2v1h-2zM65 161h2v1h-2zM161 161h2v1h-2zM64 162h2v1h-2zM162 162h2v1h-2zM63 163h2v1h-2zM162 163h2v1h-2zM61 164h3v1h-3zM163 164h2v1h-2zM54 165h9v1h-9zM163 165h2v1h-2zM50 166h11v1h-11zM163 166h2v1h-2zM38 167h16v1h-16zM164 167h2v1h-2zM35 168h15v1h-15zM164 168h2v1h-2zM33 169h5v1h-5zM165 169h2v1h-2zM31 170h4v1h-4zM165 170h2v1h-2zM30 171h3v1h-3zM165 171h2v1h-2zM29 172h3v1h-3zM166 172h2v1h-2zM28 173h3v1h-3zM166 173h2v1h-2zM27 174h3v1h-3zM167 174h1v1h-1zM26 175h3v1h-3zM167 175h2v1h-2zM25 176h3v1h-3zM167 176h2v1h-2zM24 177h3v1h-3zM168 177h2v1h-2zM23 178h3v1h-3zM168 178h2v1h-2zM22 179h3v1h-3zM168 179h2v1h-2zM21 180h3v1h-3zM169 180h2v1h-2zM21 181h2v1h-2zM169 181h2v1h-2zM20 182h2v1h-2zM169 182h2v1h-2zM19 183h2v1h-2zM170 183h2v1h-2zM18 184h2v1h-2zM170 184h2v1h-2zM17 185h3v1h-3zM171 185h2v1h-2zM16 186h3v1h-3zM171 186h2v1h-2zM15 187h3v1h-3zM171 187h2v1h-2zM14 188h3v1h-3zM172 188h2v1h-2zM14 189h2v1h-2zM172 189h2v1h-2zM13 190h2v1h-2zM173 190h2v1h-2zM12 191h2v1h-2zM173 191h2v1h-2zM12 192h2v1h-2zM173 192h2v1h-2zM11 193h2v1h-2zM174 193h2v1h-2zM10 194h2v1h-2zM174 194h2v1h-2zM9 195h3v1h-3zM175 195h2v1h-2zM9 196h2v1h-2zM175 196h2v1h-2zM8 197h2v1h-2zM176 197h2v1h-2zM734 197h2v1h-2zM7 198h2v1h-2zM176 198h2v1h-2zM733 198h3v1h-3zM6 199h2v1h-2zM177 199h2v1h-2zM733 199h2v1h-2zM5 200h3v1h-3zM177 200h3v1h-3zM732 200h2v1h-2zM4 201h3v1h-3zM178 201h2v1h-2zM731 201h2v1h-2zM3 202h3v1h-3zM179 202h2v1h-2zM730 202h2v1h-2zM3 203h2v1h-2zM179 203h2v1h-2zM730 203h2v1h-2zM3 204h1v1h-1zM180 204h2v1h-2zM729 204h2v1h-2zM180 205h2v1h-2zM728 205h2v1h-2zM181 206h2v1h-2zM728 206h2v1h-2zM181 207h3v1h-3zM727 207h2v1h-2zM182 208h2v1h-2zM726 208h2v1h-2zM183 209h2v1h-2zM726 209h2v1h-2zM183 210h2v1h-2zM725 210h2v1h-2zM184 211h2v1h-2zM725 211h2v1h-2zM185 212h2v1h-2zM724 212h2v1h-2zM185 213h2v1h-2zM724 213h2v1h-2zM186 214h2v1h-2zM723 214h2v1h-2zM187 215h2v1h-2zM723 215h2v1h-2zM187 216h3v1h-3zM722 216h2v1h-2zM188 217h3v1h-3zM722 217h2v1h-2zM189 218h3v1h-3zM721 218h2v1h-2zM190 219h3v1h-3zM720 219h2v1h-2zM192 220h3v1h-3zM720 220h2v1h-2zM193 221h3v1h-3zM719 221h2v1h-2zM194 222h4v1h-4zM718 222h2v1h-2zM196 223h4v1h-4zM717 223h3v1h-3zM198 224h3v1h-3zM717 224h2v1h-2zM200 225h3v1h-3zM716 225h2v1h-2zM201 226h3v1h-3zM715 226h2v1h-2zM202 227h3v1h-3zM714 227h2v1h-2zM203 228h3v1h-3zM713 228h3v1h-3zM204 229h2v1h-2zM713 229h2v1h-2zM205 230h2v1h-2zM712 230h2v1h-2zM206 231h2v1h-2zM711 231h2v1h-2zM207 232h2v1h-2zM710 232h2v1h-2zM208 233h3v1h-3zM709 233h3v1h-3zM209 234h3v1h-3zM708 234h3v1h-3zM210 235h3v1h-3zM707 235h3v1h-3zM212 236h3v1h-3zM705 236h4v1h-4zM213 237h3v1h-3zM702 237h5v1h-5zM214 238h4v1h-4zM699 238h6v1h-6zM216 239h4v1h-4zM697 239h5v1h-5zM218 240h3v1h-3zM694 240h5v1h-5zM220 241h3v1h-3zM690 241h7v1h-7zM221 242h3v1h-3zM658 242h7v1h-7zM670 242h7v1h-7zM682 242h12v1h-12zM222 243h4v1h-4zM655 243h35v1h-35zM224 244h4v1h-4zM653 244h5v1h-5zM665 244h5v1h-5zM677 244h5v1h-5zM226 245h4v1h-4zM234 245h2v1h-2zM650 245h5v1h-5zM228 246h9v1h-9zM646 246h7v1h-7zM230 247h4v1h-4zM235 247h2v1h-2zM642 247h8v1h-8zM236 248h2v1h-2zM639 248h7v1h-7zM236 249h2v1h-2zM637 249h5v1h-5zM237 250h2v1h-2zM635 250h4v1h-4zM237 251h2v1h-2zM633 251h4v1h-4zM238 252h2v1h-2zM630 252h5v1h-5zM238 253h2v1h-2zM627 253h6v1h-6zM239 254h2v1h-2zM626 254h4v1h-4zM239 255h2v1h-2zM625 255h3v1h-3zM240 256h2v1h-2zM625 256h2v1h-2zM240 257h2v1h-2zM624 257h2v1h-2zM241 258h2v1h-2zM623 258h2v1h-2zM241 259h3v1h-3zM622 259h2v1h-2zM242 260h2v1h-2zM621 260h3v1h-3zM243 261h2v1h-2zM621 261h2v1h-2zM243 262h2v1h-2zM620 262h2v1h-2zM244 263h2v1h-2zM619 263h2v1h-2zM245 264h2v1h-2zM618 264h2v1h-2zM245 265h2v1h-2zM617 265h3v1h-3zM246 266h2v1h-2zM616 266h3v1h-3zM247 267h2v1h-2zM615 267h3v1h-3zM247 268h3v1h-3zM614 268h3v1h-3zM248 269h3v1h-3zM613 269h3v1h-3zM249 270h3v1h-3zM612 270h3v1h-3zM250 271h3v1h-3zM611 271h3v1h-3zM252 272h3v1h-3zM609 272h4v1h-4zM253 273h3v1h-3zM607 273h4v1h-4zM254 274h3v1h-3zM605 274h4v1h-4zM255 275h3v1h-3zM603 275h4v1h-4zM256 276h2v1h-2zM602 276h3v1h-3zM257 277h2v1h-2zM600 277h3v1h-3zM258 278h2v1h-2zM599 278h3v1h-3zM259 279h2v1h-2zM598 279h3v1h-3zM260 280h3v1h-3zM597 280h3v1h-3zM261 281h3v1h-3zM597 281h2v1h-2zM262 282h3v1h-3zM596 282h2v1h-2zM263 283h2v1h-2zM595 283h2v1h-2zM264 284h2v1h-2zM594 284h2v1h-2zM265 285h2v1h-2zM593 285h3v1h-3zM265 286h2v1h-2zM592 286h3v1h-3zM266 287h2v1h-2zM591 287h3v1h-3zM267 288h2v1h-2zM590 288h3v1h-3zM267 289h2v1h-2zM589 289h3v1h-3zM268 290h2v1h-2zM588 290h3v1h-3zM268 291h2v1h-2zM587 291h3v1h-3zM269 292h2v1h-2zM586 292h3v1h-3zM269 293h2v1h-2zM585 293h3v1h-3zM270 294h2v1h-2zM585 294h2v1h-2zM270 295h2v1h-2zM584 295h2v1h-2zM271 296h2v1h-2zM583 296h2v1h-2zM271 297h2v1h-2zM582 297h2v1h-2zM271 298h2v1h-2zM581 298h3v1h-3zM272 299h2v1h-2zM580 299h3v1h-3zM272 300h2v1h-2zM579 300h3v1h-3zM273 301h2v1h-2zM578 301h3v1h-3zM273 302h2v1h-2zM576 302h3v1h-3zM274 303h2v1h-2zM574 303h4v1h-4zM274 304h2v1h-2zM571 304h6v1h-6zM275 305h2v1h-2zM570 305h4v1h-4zM275 306h2v1h-2zM569 306h3v1h-3zM275 307h2v1h-2zM568 307h3v1h-3zM276 308h2v1h-2zM567 308h3v1h-3zM276 309h2v1h-2zM566 309h3v1h-3zM277 310h2v1h-2zM565 310h3v1h-3zM277 311h2v1h-2zM565 311h2v1h-2zM278 312h2v1h-2zM564 312h2v1h-2zM278 313h2v1h-2zM563 313h2v1h-2zM279 314h2v1h-2zM562 314h2v1h-2zM279 315h2v1h-2zM561 315h3v1h-3zM279 316h2v1h-2zM561 316h2v1h-2zM280 317h2v1h-2zM560 317h2v1h-2zM280 318h2v1h-2zM559 318h2v1h-2zM281 319h2v1h-2zM558 319h2v1h-2zM281 320h2v1h-2zM557 320h3v1h-3zM282 321h2v1h-2zM556 321h3v1h-3zM282 322h2v1h-2zM555 322h3v1h-3zM283 323h2v1h-2zM554 323h3v1h-3zM283 324h2v1h-2zM553 324h3v1h-3zM283 325h2v1h-2zM552 325h3v1h-3zM284 326h2v1h-2zM551 326h3v1h-3zM284 327h2v1h-2zM550 327h3v1h-3zM285 328h2v1h-2zM548 328h3v1h-3zM285 329h2v1h-2zM547 329h3v1h-3zM286 330h2v1h-2zM545 330h4v1h-4zM286 331h2v1h-2zM543 331h4v1h-4zM287 332h2v1h-2zM542 332h3v1h-3zM287 333h2v1h-2zM541 333h3v1h-3zM288 334h2v1h-2zM541 334h2v1h-2zM288 335h2v1h-2zM540 335h2v1h-2zM289 336h2v1h-2zM539 336h2v1h-2zM289 337h3v1h-3zM537 337h3v1h-3zM290 338h2v1h-2zM535 338h4v1h-4zM291 339h2v1h-2zM533 339h4v1h-4zM291 340h2v1h-2zM531 340h4v1h-4zM291 341h2v1h-2zM530 341h3v1h-3zM292 342h2v1h-2zM528 342h3v1h-3zM292 343h2v1h-2zM527 343h3v1h-3zM293 344h2v1h-2zM526 344h3v1h-3zM293 345h2v1h-2zM525 345h3v1h-3zM294 346h2v1h-2zM524 346h3v1h-3zM294 347h2v1h-2zM523 347h3v1h-3zM295 348h2v1h-2zM522 348h3v1h-3zM295 349h2v1h-2zM520 349h3v1h-3zM296 350h2v1h-2zM519 350h3v1h-3zM296 351h2v1h-2zM517 351h4v1h-4zM297 352h2v1h-2zM515 352h4v1h-4zM297 353h2v1h-2zM513 353h4v1h-4zM298 354h2v1h-2zM507 354h8v1h-8zM298 355h2v1h-2zM505 355h8v1h-8zM299 356h2v1h-2zM502 356h5v1h-5zM299 357h2v1h-2zM455 357h18v1h-18zM499 357h6v1h-6zM300 358h2v1h-2zM453 358h24v1h-24zM498 358h4v1h-4zM300 359h2v1h-2zM451 359h4v1h-4zM473 359h8v1h-8zM496 359h3v1h-3zM301 360h2v1h-2zM449 360h4v1h-4zM477 360h7v1h-7zM494 360h4v1h-4zM301 361h2v1h-2zM447 361h4v1h-4zM481 361h5v1h-5zM490 361h7v1h-7zM302 362h2v1h-2zM445 362h4v1h-4zM484 362h10v1h-10zM302 363h2v1h-2zM443 363h4v1h-4zM486 363h4v1h-4zM303 364h2v1h-2zM442 364h3v1h-3zM303 365h2v1h-2zM440 365h3v1h-3zM304 366h2v1h-2zM439 366h3v1h-3zM304 367h2v1h-2zM406 367h7v1h-7zM437 367h4v1h-4zM305 368h2v1h-2zM402 368h14v1h-14zM435 368h4v1h-4zM305 369h3v1h-3zM398 369h8v1h-8zM413 369h5v1h-5zM434 369h3v1h-3zM306 370h2v1h-2zM395 370h7v1h-7zM416 370h4v1h-4zM432 370h3v1h-3zM307 371h2v1h-2zM393 371h5v1h-5zM418 371h4v1h-4zM431 371h3v1h-3zM307 372h2v1h-2zM391 372h4v1h-4zM420 372h5v1h-5zM429 372h4v1h-4zM308 373h2v1h-2zM389 373h4v1h-4zM422 373h9v1h-9zM308 374h2v1h-2zM386 374h5v1h-5zM425 374h4v1h-4zM309 375h2v1h-2zM383 375h6v1h-6zM309 376h3v1h-3zM381 376h5v1h-5zM310 377h2v1h-2zM379 377h4v1h-4zM311 378h2v1h-2zM378 378h3v1h-3zM311 379h2v1h-2zM377 379h3v1h-3zM311 380h2v1h-2zM376 380h3v1h-3zM312 381h2v1h-2zM375 381h3v1h-3zM312 382h2v1h-2zM373 382h4v1h-4zM313 383h2v1h-2zM371 383h4v1h-4zM313 384h2v1h-2zM322 384h3v1h-3zM369 384h4v1h-4zM314 385h2v1h-2zM318 385h10v1h-10zM367 385h4v1h-4zM314 386h8v1h-8zM325 386h5v1h-5zM365 386h4v1h-4zM315 387h3v1h-3zM328 387h5v1h-5zM362 387h5v1h-5zM330 388h7v1h-7zM358 388h7v1h-7zM333 389h8v1h-8zM354 389h8v1h-8zM337 390h21v1h-21zM341 391h13v1h-13z"/>
<rect x="3" y="26" width="757" height="1" fill="#ff0000"/>
<rect x="3" y="434" width="757" height="1" fill="#ff0000"/>
<path fill="#696969" d="M2 476h3v35h-3zM6 476h3v35h-3zM10 477h3v34h-3zM14 478h3v33h-3zM18 481h3v30h-3zM22 486h3v25h-3zM26 491h3v20h-3zM30 492h3v19h-3zM34 495h3v16h-3zM38 499h3v12h-3zM42 501h3v10h-3zM46 494h3v17h-3zM50 491h3v20h-3zM54 490h3v21h-3zM58 485h3v26h-3zM62 476h3v35h-3zM66 470h3v41h-3zM70 467h3v44h-3zM74 464h3v47h-3zM78 462h3v49h-3zM82 460h3v51h-3zM86 459h3v52h-3zM90 460h3v51h-3zM94 463h3v48h-3zM98 475h3v36h-3zM102 483h3v28h-3zM106 494h3v17h-3zM110 504h3v7h-3zM114 511h3v3h-3zM118 511h3v10h-3zM122 511h3v14h-3zM126 511h3v12h-3zM130 511h3v16h-3zM134 511h3v18h-3zM138 511h3v22h-3zM142 511h3v22h-3zM146 511h3v22h-3zM150 511h3v26h-3zM154 511h3v27h-3zM158 511h3v31h-3zM162 511h3v34h-3zM166 511h3v35h-3zM170 511h3v37h-3zM174 511h3v40h-3zM178 511h3v38h-3zM182 511h3v38h-3zM186 511h3v36h-3zM190 511h3v31h-3zM194 511h3v28h-3zM198 511h3v23h-3zM202 511h3v23h-3zM206 511h3v22h-3zM210 511h3v22h-3zM214 511h3v22h-3zM218 511h3v22h-3zM222 511h3v22h-3zM226 511h3v18h-3zM230 511h3v19h-3zM234 511h3v9h-3zM238 511h3v35h-3zM242 511h3v51h-3zM246 511h3v55h-3zM250 511h3v53h-3zM254 511h3v48h-3zM258 511h3v48h-3zM262 511h3v45h-3zM266 511h3v49h-3zM270 511h3v54h-3zM274 511h3v60h-3zM278 511h3v63h-3zM282 511h3v63h-3zM286 511h3v62h-3zM290 511h3v58h-3zM294 511h3v57h-3zM298 511h3v57h-3zM302 511h3v54h-3zM306 511h3v43h-3zM310 511h3v38h-3zM314 511h3v34h-3zM318 511h3v29h-3zM322 511h3v25h-3zM326 511h3v24h-3zM330 511h3v21h-3zM334 511h3v16h-3zM338 511h3v12h-3zM342 511h3v9h-3zM346 511h3v11h-3zM350 511h3v17h-3zM354 511h3v20h-3zM358 511h3v19h-3zM362 511h3v21h-3zM366 511h3v17h-3zM370 511h3v13h-3zM374 511h3v10h-3zM378 511h3v7h-3zM382 511h3v6h-3zM386 511h3v2h-3zM390 510h3v1h-3zM394 509h3v2h-3zM398 509h3v2h-3zM402 507h3v4h-3zM406 508h3v3h-3zM410 511h3v1h-3zM414 511h3v6h-3zM418 511h3v10h-3zM422 511h3v11h-3zM426 511h3v12h-3zM430 511h3v8h-3zM434 511h3v3h-3zM438 510h3v1h-3zM442 506h3v5h-3zM446 503h3v8h-3zM450 499h3v12h-3zM454 498h3v13h-3zM458 503h3v8h-3zM462 508h3v3h-3zM466 507h3v4h-3zM470 506h3v5h-3zM474 510h3v1h-3zM478 511h3v4h-3zM482 511h3v7h-3zM486 511h3v9h-3zM490 511h3v5h-3zM494 511h3v3h-3zM498 510h3v1h-3zM506 509h3v2h-3zM510 509h3v2h-3zM514 503h3v8h-3zM518 496h3v15h-3zM522 489h3v22h-3zM526 480h3v31h-3zM530 479h3v32h-3zM534 480h3v31h-3zM538 485h3v26h-3zM542 486h3v25h-3zM546 488h3v23h-3zM550 487h3v24h-3zM554 489h3v22h-3zM558 491h3v20h-3zM562 490h3v21h-3zM566 490h3v21h-3zM570 493h3v18h-3zM574 500h3v11h-3zM578 501h3v10h-3zM582 496h3v15h-3zM586 491h3v20h-3zM590 492h3v19h-3zM594 485h3v26h-3zM598 477h3v34h-3zM602 474h3v37h-3zM606 473h3v38h-3zM610 476h3v35h-3zM614 476h3v35h-3zM618 476h3v35h-3zM622 475h3v36h-3zM626 474h3v37h-3zM630 482h3v29h-3zM634 489h3v22h-3zM638 494h3v17h-3zM642 499h3v12h-3zM646 503h3v8h-3zM650 508h3v3h-3zM654 511h3v1h-3zM658 511h3v3h-3zM662 511h3v1h-3zM666 511h3v2h-3zM670 511h3v1h-3zM674 504h3v7h-3zM678 499h3v12h-3zM682 492h3v19h-3zM686 490h3v21h-3zM690 490h3v21h-3zM694 486h3v25h-3zM698 484h3v27h-3zM702 480h3v31h-3zM706 478h3v33h-3zM710 476h3v35h-3zM714 473h3v38h-3zM718 471h3v40h-3zM722 470h3v41h-3zM726 468h3v43h-3zM730 473h3v38h-3zM734 478h3v33h-3z"/>
<path fill="#c0c0c0" d="M4 511h3v1h-3zM10 511h3v1h-3zM16 511h3v1h-3zM22 511h3v1h-3zM28 511h3v1h-3zM34 511h3v1h-3zM40 511h3v1h-3zM46 511h3v1h-3zM52 511h3v1h-3zM58 511h3v1h-3zM64 511h3v1h-3zM70 511h3v1h-3zM76 511h3v1h-3zM82 511h3v1h-3zM88 511h3v1h-3zM94 511h3v1h-3zM100 511h3v1h-3zM106 511h3v1h-3zM112 511h3v1h-3zM118 511h3v1h-3zM124 511h3v1h-3zM130 511h3v1h-3zM136 511h3v1h-3zM142 511h3v1h-3zM148 511h3v1h-3zM154 511h3v1h-3zM160 511h3v1h-3zM166 511h3v1h-3zM172 511h3v1h-3zM178 511h3v1h-3zM184 511h3v1h-3zM190 511h3v1h-3zM196 511h3v1h-3zM202 511h3v1h-3zM208 511h3v1h-3zM214 511h3v1h-3zM220 511h3v1h-3zM226 511h3v1h-3zM232 511h3v1h-3zM238 511h3v1h-3zM244 511h3v1h-3zM250 511h3v1h-3zM256 511h3v1h-3zM262 511h3v1h-3zM268 511h3v1h-3zM274 511h3v1h-3zM280 511h3v1h-3zM286 511h3v1h-3zM292 511h3v1h-3zM298 511h3v1h-3zM304 511h3v1h-3zM310 511h3v1h-3zM316 511h3v1h-3zM322 511h3v1h-3zM328 511h3v1h-3zM334 511h3v1h-3zM340 511h3v1h-3zM346 511h3v1h-3zM352 511h3v1h-3zM358 511h3v1h-3zM364 511h3v1h-3zM370 511h3v1h-3zM376 511h3v1h-3zM382 511h3v1h-3zM388 511h3v1h-3zM394 511h3v1h-3zM400 511h3v1h-3zM406 511h3v1h-3zM412 511h3v1h-3zM418 511h3v1h-3zM424 511h3v1h-3zM430 511h3v1h-3zM436 511h3v1h-3zM442 511h3v1h-3zM448 511h3v1h-3zM454 511h3v1h-3zM460 511h3v1h-3zM466 511h3v1h-3zM472 511h3v1h-3zM478 511h3v1h-3zM484 511h3v1h-3zM490 511h3v1h-3zM496 511h3v1h-3zM502 511h3v1h-3zM508 511h3v1h-3zM514 511h3v1h-3zM520 511h3v1h-3zM526 511h3v1h-3zM532 511h3v1h-3zM538 511h3v1h-3zM544 511h3v1h-3zM550 511h3v1h-3zM556 511h3v1h-3zM562 511h3v1h-3zM568 511h3v1h-3zM574 511h3v1h-3zM580 511h3v1h-3zM586 511h3v1h-3zM592 511h3v1h-3zM598 511h3v1h-3zM604 511h3v1h-3zM610 511h3v1h-3zM616 511h3v1h-3zM622 511h3v1h-3zM628 511h3v1h-3zM634 511h3v1h-3zM640 511h3v1h-3zM646 511h3v1h-3zM652 511h3v1h-3zM658 511h3v1h-3zM664 511h3v1h-3zM670 511h3v1h-3zM676 511h3v1h-3zM682 511h3v1h-3zM688 511h3v1h-3zM694 511h3v1h-3zM700 511h3v1h-3zM706 511h3v1h-3zM712 511h3v1h-3zM718 511h3v1h-3zM724 511h3v1h-3zM730 511h3v1h-3zM736 511h3v1h-3zM742 511h3v1h-3zM748 511h3v1h-3zM754 511h3v1h-3z"/>
<path fill="#ff0000" d="M90 461h2v1h-2zM95 461h2v1h-2zM89 462h1v1h-1zM97 462h1v1h-1zM84 464h2v1h-2zM83 465h1v1h-1zM101 465h1v1h-1zM101 466h1v1h-1zM102 467h1v1h-1zM79 468h1v1h-1zM78 469h1v1h-1zM77 470h1v1h-1zM105 471h1v1h-1zM733 471h1v1h-1zM105 472h1v1h-1zM727 472h3v1h-3zM734 472h2v1h-2zM3 473h3v1h-3zM106 473h1v1h-1zM74 474h1v1h-1zM723 474h1v1h-1zM9 475h2v1h-2zM73 475h1v1h-1zM618 475h3v1h-3zM624 475h3v1h-3zM721 475h2v1h-2zM11 476h1v1h-1zM72 476h1v1h-1zM613 476h2v1h-2zM630 476h1v1h-1zM15 477h3v1h-3zM108 477h1v1h-1zM612 477h1v1h-1zM631 477h2v1h-2zM717 477h1v1h-1zM108 478h1v1h-1zM715 478h2v1h-2zM21 479h2v1h-2zM109 479h1v1h-1zM608 479h1v1h-1zM23 480h1v1h-1zM69 480h1v1h-1zM607 480h1v1h-1zM636 480h1v1h-1zM68 481h1v1h-1zM606 481h1v1h-1zM637 481h1v1h-1zM711 481h1v1h-1zM67 482h1v1h-1zM542 482h2v1h-2zM638 482h1v1h-1zM710 482h1v1h-1zM27 483h1v1h-1zM111 483h1v1h-1zM541 483h1v1h-1zM709 483h1v1h-1zM28 484h2v1h-2zM111 484h1v1h-1zM537 484h1v1h-1zM547 484h3v1h-3zM111 485h1v1h-1zM535 485h2v1h-2zM602 485h1v1h-1zM705 485h1v1h-1zM64 486h1v1h-1zM553 486h2v1h-2zM601 486h1v1h-1zM641 486h1v1h-1zM703 486h2v1h-2zM33 487h1v1h-1zM63 487h1v1h-1zM555 487h1v1h-1zM600 487h1v1h-1zM642 487h1v1h-1zM34 488h1v1h-1zM62 488h1v1h-1zM559 488h3v1h-3zM643 488h1v1h-1zM699 488h1v1h-1zM35 489h1v1h-1zM113 489h1v1h-1zM531 489h1v1h-1zM565 489h3v1h-3zM698 489h1v1h-1zM113 490h1v1h-1zM530 490h1v1h-1zM697 490h1v1h-1zM114 491h1v1h-1zM530 491h1v1h-1zM571 491h2v1h-2zM597 491h1v1h-1zM59 492h1v1h-1zM573 492h1v1h-1zM596 492h1v1h-1zM646 492h1v1h-1zM39 493h1v1h-1zM58 493h1v1h-1zM595 493h1v1h-1zM647 493h1v1h-1zM693 493h1v1h-1zM40 494h2v1h-2zM57 494h1v1h-1zM577 494h2v1h-2zM648 494h1v1h-1zM692 494h1v1h-1zM115 495h1v1h-1zM527 495h1v1h-1zM579 495h1v1h-1zM691 495h1v1h-1zM45 496h3v1h-3zM51 496h3v1h-3zM116 496h1v1h-1zM526 496h1v1h-1zM583 496h3v1h-3zM589 496h3v1h-3zM116 497h1v1h-1zM526 497h1v1h-1zM650 498h1v1h-1zM651 499h1v1h-1zM687 499h1v1h-1zM652 500h1v1h-1zM686 500h1v1h-1zM118 501h1v1h-1zM523 501h1v1h-1zM685 501h1v1h-1zM119 502h1v1h-1zM458 502h1v1h-1zM462 502h3v1h-3zM522 502h1v1h-1zM119 503h1v1h-1zM456 503h2v1h-2zM468 503h2v1h-2zM521 503h1v1h-1zM470 504h1v1h-1zM656 504h1v1h-1zM452 505h1v1h-1zM657 505h1v1h-1zM682 505h1v1h-1zM451 506h1v1h-1zM474 506h1v1h-1zM658 506h1v1h-1zM680 506h2v1h-2zM121 507h1v1h-1zM450 507h1v1h-1zM475 507h2v1h-2zM517 507h2v1h-2zM121 508h1v1h-1zM516 508h1v1h-1zM662 508h1v1h-1zM122 509h1v1h-1zM403 509h2v1h-2zM408 509h3v1h-3zM480 509h1v1h-1zM663 509h2v1h-2zM676 509h1v1h-1zM402 510h1v1h-1zM414 510h3v1h-3zM481 510h2v1h-2zM511 510h2v1h-2zM675 510h1v1h-1zM446 511h1v1h-1zM510 511h1v1h-1zM668 511h2v1h-2zM674 511h1v1h-1zM397 512h2v1h-2zM445 512h1v1h-1zM486 512h1v1h-1zM670 512h1v1h-1zM124 513h1v1h-1zM396 513h1v1h-1zM420 513h2v1h-2zM444 513h1v1h-1zM487 513h2v1h-2zM505 513h2v1h-2zM125 514h1v1h-1zM422 514h1v1h-1zM504 514h1v1h-1zM126 515h1v1h-1zM391 515h2v1h-2zM492 515h2v1h-2zM498 515h3v1h-3zM390 516h1v1h-1zM440 516h1v1h-1zM494 516h1v1h-1zM426 517h1v1h-1zM439 517h1v1h-1zM427 518h2v1h-2zM438 518h1v1h-1zM129 519h1v1h-1zM386 519h1v1h-1zM432 519h3v1h-3zM130 520h1v1h-1zM384 520h2v1h-2zM131 521h1v1h-1zM350 523h1v1h-1zM380 523h1v1h-1zM135 524h2v1h-2zM348 524h2v1h-2zM354 524h3v1h-3zM379 524h1v1h-1zM137 525h1v1h-1zM378 525h1v1h-1zM343 526h2v1h-2zM360 526h2v1h-2zM141 527h2v1h-2zM342 527h1v1h-1zM362 527h1v1h-1zM373 527h2v1h-2zM143 528h1v1h-1zM372 528h1v1h-1zM237 529h1v1h-1zM366 529h3v1h-3zM147 530h2v1h-2zM232 530h2v1h-2zM238 530h1v1h-1zM149 531h1v1h-1zM226 531h2v1h-2zM231 531h1v1h-1zM239 531h1v1h-1zM338 531h1v1h-1zM215 532h1v1h-1zM219 532h3v1h-3zM225 532h1v1h-1zM336 532h2v1h-2zM153 533h2v1h-2zM213 533h2v1h-2zM155 534h1v1h-1zM207 535h3v1h-3zM242 535h1v1h-1zM159 536h2v1h-2zM243 536h1v1h-1zM332 536h1v1h-1zM161 537h1v1h-1zM243 537h1v1h-1zM331 537h1v1h-1zM203 538h1v1h-1zM330 538h1v1h-1zM165 539h1v1h-1zM202 539h1v1h-1zM166 540h1v1h-1zM201 540h1v1h-1zM167 541h1v1h-1zM245 541h1v1h-1zM326 541h1v1h-1zM246 542h1v1h-1zM325 542h1v1h-1zM171 543h2v1h-2zM196 543h2v1h-2zM246 543h1v1h-1zM324 543h1v1h-1zM173 544h1v1h-1zM195 544h1v1h-1zM177 546h2v1h-2zM179 547h1v1h-1zM190 547h2v1h-2zM249 547h1v1h-1zM321 547h1v1h-1zM183 548h3v1h-3zM189 548h1v1h-1zM249 548h1v1h-1zM320 548h1v1h-1zM250 549h1v1h-1zM320 549h1v1h-1zM252 553h1v1h-1zM317 553h1v1h-1zM253 554h1v1h-1zM316 554h1v1h-1zM253 555h1v1h-1zM315 555h1v1h-1zM256 559h2v1h-2zM268 559h3v1h-3zM312 559h1v1h-1zM258 560h1v1h-1zM262 560h3v1h-3zM274 560h1v1h-1zM311 560h1v1h-1zM275 561h1v1h-1zM310 561h1v1h-1zM276 562h1v1h-1zM280 565h1v1h-1zM306 565h1v1h-1zM281 566h1v1h-1zM305 566h1v1h-1zM282 567h1v1h-1zM304 567h1v1h-1zM286 569h1v1h-1zM299 569h2v1h-2zM287 570h2v1h-2zM298 570h1v1h-1zM292 571h3v1h-3z"/>
<g fill="#000000">
<rect x="2" y="2" width="759" height="1"/>
<rect x="2" y="2" width="1" height="446"/>
<rect x="2" y="447" width="759" height="1"/>
<rect x="2" y="449" width="759" height="1"/>
<rect x="2" y="449" width="1" height="131"/>
<rect x="2" y="579" width="759" height="1"/>
<rect x="760" y="2" width="1" height="446"/>
<rect x="760" y="449" width="1" height="131"/>
<rect x="761" y="7" width="2" height="1"/>
<rect x="761" y="40" width="2" height="1"/>
<rect x="761" y="74" width="2" height="1"/>
<rect x="761" y="108" width="2" height="1"/>
<rect x="761" y="141" width="2" height="1"/>
<rect x="761" y="175" width="2" height="1"/>
<rect x="761" y="208" width="2" height="1"/>
<rect x="761" y="242" width="2" height="1"/>
<rect x="761" y="275" width="2" height="1"/>
<rect x="761" y="309" width="2" height="1"/>
<rect x="761" y="342" width="2" height="1"/>
<rect x="761" y="376" width="2" height="1"/>
<rect x="761" y="410" width="2" height="1"/>
<rect x="761" y="443" width="2" height="1"/>
<rect x="761" y="451" width="1" height="1"/>
<rect x="761" y="511" width="1" height="1"/>
<rect x="761" y="578" width="1" height="1"/>
<rect x="3" y="580" width="1" height="3"/>
<rect x="67" y="580" width="1" height="3"/>
<rect x="131" y="580" width="1" height="3"/>
<rect x="195" y="580" width="1" height="3"/>
<rect x="259" y="580" width="1" height="3"/>
<rect x="323" y="580" width="1" height="3"/>
<rect x="387" y="580" width="1" height="3"/>
<rect x="451" y="580" width="1" height="3"/>
<rect x="515" y="580" width="1" height="3"/>
<rect x="579" y="580" width="1" height="3"/>
<rect x="643" y="580" width="1" height="3"/>
<rect x="707" y="580" width="1" height="3"/>
</g>
<rect x="760" y="167" width="1" height="1" fill="#c0c0c0"/>
<g fill="#000000">
<path d="M6 9h7v1h-7zM7 10h5v1h-5zM8 11h3v1h-3zM9 12h1v1h-1z"/>
</g>
<g font-family="'Liberation Sans', sans-serif" font-size="9.8px">
<text x="18" y="14" fill="#000000" stroke="#000000" stroke-width="0.25" textLength="48.5" lengthAdjust="spacingAndGlyphs" text-anchor="start" xml:space="preserve">SBUX,Daily</text>
<text x="73" y="14" fill="#000000" stroke="#000000" stroke-width="0.25" textLength="23" lengthAdjust="spacingAndGlyphs" text-anchor="start" xml:space="preserve">60.86</text>
<text x="99" y="14" fill="#000000" stroke="#000000" stroke-width="0.25" textLength="23" lengthAdjust="spacingAndGlyphs" text-anchor="start" xml:space="preserve">61.12</text>
<text x="125" y="14" fill="#000000" stroke="#000000" stroke-width="0.25" textLength="23" lengthAdjust="spacingAndGlyphs" text-anchor="start" xml:space="preserve">60.30</text>
<text x="151" y="14" fill="#000000" stroke="#000000" stroke-width="0.25" textLength="23" lengthAdjust="spacingAndGlyphs" text-anchor="start" xml:space="preserve">60.52</text>
<text x="7.2" y="462" fill="#000000" stroke="#000000" stroke-width="0.25" textLength="60.5" lengthAdjust="spacingAndGlyphs" text-anchor="start" xml:space="preserve">MACD(5,34,5)</text>
<text x="72" y="462" fill="#000000" stroke="#000000" stroke-width="0.25" textLength="23" lengthAdjust="spacingAndGlyphs" text-anchor="start" xml:space="preserve">1.604</text>
<text x="98" y="462" fill="#000000" stroke="#000000" stroke-width="0.25" textLength="23" lengthAdjust="spacingAndGlyphs" text-anchor="start" xml:space="preserve">1.885</text>
<text x="766" y="11" fill="#000000" stroke="#000000" stroke-width="0.25" textLength="23" lengthAdjust="spacingAndGlyphs" text-anchor="start" xml:space="preserve">65.30</text>
<text x="766" y="44" fill="#000000" stroke="#000000" stroke-width="0.25" textLength="23" lengthAdjust="spacingAndGlyphs" text-anchor="start" xml:space="preserve">64.30</text>
<text x="766" y="78" fill="#000000" stroke="#000000" stroke-width="0.25" textLength="23" lengthAdjust="spacingAndGlyphs" text-anchor="start" xml:space="preserve">63.30</text>
<text x="766" y="112" fill="#000000" stroke="#000000" stroke-width="0.25" textLength="23" lengthAdjust="spacingAndGlyphs" text-anchor="start" xml:space="preserve">62.30</text>
<text x="766" y="145" fill="#000000" stroke="#000000" stroke-width="0.25" textLength="23" lengthAdjust="spacingAndGlyphs" text-anchor="start" xml:space="preserve">61.30</text>
<text x="766" y="179" fill="#000000" stroke="#000000" stroke-width="0.25" textLength="23" lengthAdjust="spacingAndGlyphs" text-anchor="start" xml:space="preserve">60.30</text>
<text x="766" y="212" fill="#000000" stroke="#000000" stroke-width="0.25" textLength="23" lengthAdjust="spacingAndGlyphs" text-anchor="start" xml:space="preserve">59.30</text>
<text x="766" y="246" fill="#000000" stroke="#000000" stroke-width="0.25" textLength="23" lengthAdjust="spacingAndGlyphs" text-anchor="start" xml:space="preserve">58.30</text>
<text x="766" y="279" fill="#000000" stroke="#000000" stroke-width="0.25" textLength="23" lengthAdjust="spacingAndGlyphs" text-anchor="start" xml:space="preserve">57.30</text>
<text x="766" y="313" fill="#000000" stroke="#000000" stroke-width="0.25" textLength="23" lengthAdjust="spacingAndGlyphs" text-anchor="start" xml:space="preserve">56.30</text>
<text x="766" y="346" fill="#000000" stroke="#000000" stroke-width="0.25" textLength="23" lengthAdjust="spacingAndGlyphs" text-anchor="start" xml:space="preserve">55.30</text>
<text x="766" y="380" fill="#000000" stroke="#000000" stroke-width="0.25" textLength="23" lengthAdjust="spacingAndGlyphs" text-anchor="start" xml:space="preserve">54.30</text>
<text x="766" y="414" fill="#000000" stroke="#000000" stroke-width="0.25" textLength="23" lengthAdjust="spacingAndGlyphs" text-anchor="start" xml:space="preserve">53.30</text>
<text x="766" y="447" fill="#000000" stroke="#000000" stroke-width="0.25" textLength="23" lengthAdjust="spacingAndGlyphs" text-anchor="start" xml:space="preserve">52.30</text>
<text x="764" y="460" fill="#000000" stroke="#000000" stroke-width="0.25" textLength="23" lengthAdjust="spacingAndGlyphs" text-anchor="start" xml:space="preserve">2.928</text>
<text x="764.1" y="515" fill="#000000" stroke="#000000" stroke-width="0.25" textLength="18" lengthAdjust="spacingAndGlyphs" text-anchor="start" xml:space="preserve"><tspan stroke-width="0.9">0</tspan>.00</text>
<text x="764" y="576" fill="#000000" stroke="#000000" stroke-width="0.25" textLength="26" lengthAdjust="spacingAndGlyphs" text-anchor="start" xml:space="preserve">-3.277</text>
<text x="2" y="592" fill="#000000" stroke="#000000" stroke-width="0.25" textLength="50" lengthAdjust="spacingAndGlyphs" text-anchor="start" xml:space="preserve">4 May 2017</text>
<text x="66" y="592" fill="#000000" stroke="#000000" stroke-width="0.25" textLength="55" lengthAdjust="spacingAndGlyphs" text-anchor="start" xml:space="preserve">26 May 2017</text>
<text x="130" y="592" fill="#000000" stroke="#000000" stroke-width="0.25" textLength="50" lengthAdjust="spacingAndGlyphs" text-anchor="start" xml:space="preserve">20 Jun 2017</text>
<text x="194" y="592" fill="#000000" stroke="#000000" stroke-width="0.25" textLength="47" lengthAdjust="spacingAndGlyphs" text-anchor="start" xml:space="preserve">13 Jul 2017</text>
<text x="258" y="592" fill="#000000" stroke="#000000" stroke-width="0.25" textLength="48" lengthAdjust="spacingAndGlyphs" text-anchor="start" xml:space="preserve">4 Aug 2017</text>
<text x="322" y="592" fill="#000000" stroke="#000000" stroke-width="0.25" textLength="53" lengthAdjust="spacingAndGlyphs" text-anchor="start" xml:space="preserve">28 Aug 2017</text>
<text x="386" y="592" fill="#000000" stroke="#000000" stroke-width="0.25" textLength="52.5" lengthAdjust="spacingAndGlyphs" text-anchor="start" xml:space="preserve">20 Sep 2017</text>
<text x="450" y="592" fill="#000000" stroke="#000000" stroke-width="0.25" textLength="51" lengthAdjust="spacingAndGlyphs" text-anchor="start" xml:space="preserve">12 Oct 2017</text>
<text x="514" y="592" fill="#000000" stroke="#000000" stroke-width="0.25" textLength="49" lengthAdjust="spacingAndGlyphs" text-anchor="start" xml:space="preserve">3 Nov 2017</text>
<text x="578" y="592" fill="#000000" stroke="#000000" stroke-width="0.25" textLength="54" lengthAdjust="spacingAndGlyphs" text-anchor="start" xml:space="preserve">28 Nov 2017</text>
<text x="642" y="592" fill="#000000" stroke="#000000" stroke-width="0.25" textLength="51.5" lengthAdjust="spacingAndGlyphs" text-anchor="start" xml:space="preserve">20 Dec 2017</text>
<text x="706" y="592" fill="#000000" stroke="#000000" stroke-width="0.25" textLength="50.5" lengthAdjust="spacingAndGlyphs" text-anchor="start" xml:space="preserve">16 Jan 2018</text>
</g>
<rect x="762" y="20" width="31" height="11" fill="#ff0000"/>
<rect x="762" y="428" width="31" height="11" fill="#ff0000"/>
<rect x="762" y="162" width="31" height="11" fill="#000000"/>
<g font-family="'Liberation Sans', sans-serif" font-size="9.8px">
<text x="766" y="30" fill="#ffffff" stroke="#ffffff" stroke-width="0.25" textLength="23" lengthAdjust="spacingAndGlyphs" text-anchor="start" xml:space="preserve">64.74</text>
<text x="766" y="438" fill="#ffffff" stroke="#ffffff" stroke-width="0.25" textLength="23" lengthAdjust="spacingAndGlyphs" text-anchor="start" xml:space="preserve">52.58</text>
<text x="766" y="171" fill="#ffffff" stroke="#ffffff" stroke-width="0.25" textLength="23" lengthAdjust="spacingAndGlyphs" text-anchor="start" xml:space="preserve">60.52</text>
</g>
</svg>
</body>
</html>
